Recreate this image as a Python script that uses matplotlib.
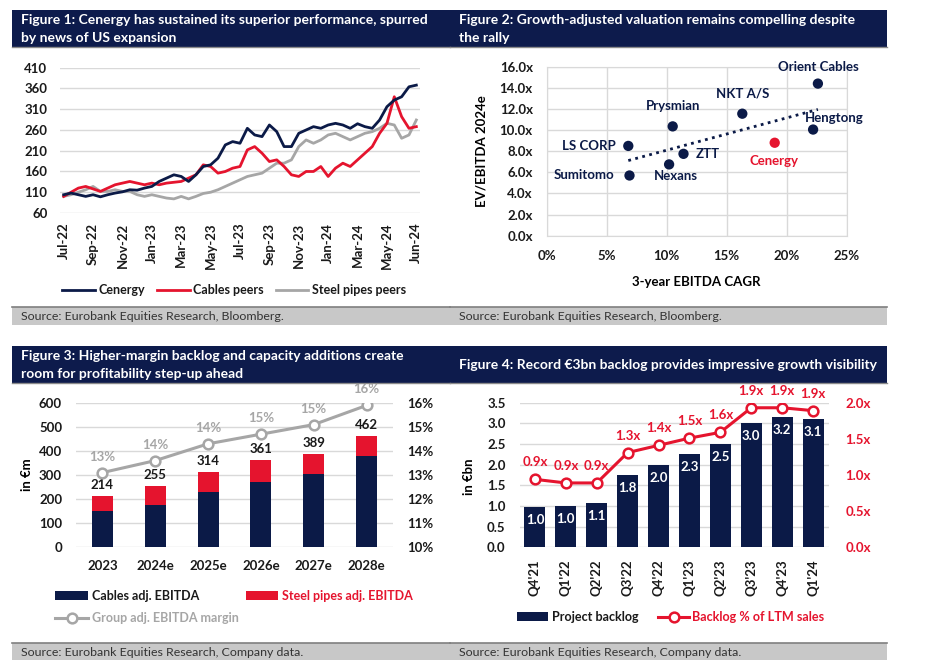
import numpy as np
import matplotlib.pyplot as plt
from matplotlib.patches import Rectangle
from matplotlib.lines import Line2D

W, H = 938, 660
NAVY = '#0b1a47'
HEAD = '#0d1b4c'
RED = '#e5142e'
GREY = '#a6a6a6'
GRID = '#d9d9d9'
TXT = '#1a1a1a'

# ---- Figure 1 data (half-monthly readings, rebased to 100) ----
perf_ticks = ['Jul-22', 'Sep-22', 'Nov-22', 'Jan-23', 'Mar-23', 'May-23', 'Jul-23',
              'Sep-23', 'Nov-23', 'Jan-24', 'Mar-24', 'May-24', 'Jun-24']
cenergy = [104, 108, 104, 100, 104, 99, 104, 108, 111, 116, 115, 120, 124, 136, 144, 152,
           148, 136, 152, 172, 176, 192, 224, 232, 228, 264, 248, 244, 272, 256, 220, 220,
           252, 260, 268, 264, 272, 276, 272, 264, 275, 268, 264, 284, 316, 332, 340, 364, 368]
cables_peers = [100, 110, 120, 124, 118, 112, 120, 128, 132, 136, 132, 128, 132, 128, 132, 134,
                136, 144, 152, 176, 172, 156, 160, 168, 172, 212, 220, 204, 184, 188, 172, 152,
                148, 160, 160, 172, 148, 168, 180, 172, 188, 204, 220, 252, 276, 340, 292, 264, 268]
steel_pipes = [100, 104, 110, 116, 124, 112, 112, 116, 112, 112, 104, 100, 104, 100, 96, 94,
               100, 94, 100, 107, 110, 116, 124, 132, 140, 148, 152, 156, 168, 180, 180, 188,
               220, 236, 228, 236, 248, 252, 244, 236, 244, 252, 256, 264, 276, 272, 240, 248, 284]

# ---- Figure 2 data ----
peers = ['Orient Cables', 'NKT A/S', 'Prysmian', 'LS CORP', 'Sumitomo', 'Nexans', 'ZTT', 'Hengtong', 'Cenergy']
cagr = [22.6, 16.3, 10.5, 6.8, 6.9, 10.2, 11.4, 22.2, 19.0]
ev_ebitda = [14.4, 11.55, 10.35, 8.5, 5.7, 6.75, 7.75, 10.05, 8.8]

# ---- Figure 3 data ----
years = ['2023', '2024e', '2025e', '2026e', '2027e', '2028e']
cables_ebitda = [150, 176, 229, 272, 304, 379]
steel_ebitda = [64, 79, 85, 89, 85, 83]
ebitda_margin = [13.1, 13.6, 14.3, 14.7, 15.1, 15.9]

# ---- Figure 4 data ----
quarters = ["Q4'21", "Q1'22", "Q2'22", "Q3'22", "Q4'22", "Q1'23", "Q2'23", "Q3'23", "Q4'23", "Q1'24"]
backlog = [0.98, 1.0, 1.08, 1.76, 2.0, 2.27, 2.49, 3.0, 3.16, 3.1]
backlog_ratio = [0.94, 0.89, 0.89, 1.31, 1.41, 1.51, 1.59, 1.93, 1.93, 1.89]

plt.rcParams['font.family'] = ['Lato', 'DejaVu Sans']
plt.rcParams['font.weight'] = 'bold'
plt.rcParams['axes.labelweight'] = 'bold'
plt.rcParams['text.color'] = TXT
plt.rcParams['xtick.color'] = TXT
plt.rcParams['ytick.color'] = TXT

fig = plt.figure(figsize=(W / 100, H / 100), dpi=100)


def fx(x):
    return x / W


def fy(y):
    return 1 - y / H


def box(x0, y0, x1, y1):
    return [x0 / W, 1 - y1 / H, (x1 - x0) / W, (y1 - y0) / H]


def header(x0, y0, x1, y1, lines, ys):
    fig.add_artist(Rectangle((fx(x0), fy(y1)), fx(x1 - x0), (y1 - y0) / H,
                             transform=fig.transFigure, facecolor=HEAD, edgecolor='none'))
    fig.add_artist(Line2D([fx(x0), fx(x1)], [fy(y1), fy(y1)], transform=fig.transFigure,
                          color='#8a8a8a', lw=1))
    for line, yy in zip(lines, ys):
        fig.text(fx(x0 + 9), fy(yy), line, color='white', fontsize=10, fontweight='bold',
                 va='center', ha='left')


def source(x0, y0, x1, y1, text):
    fig.add_artist(Rectangle((fx(x0), fy(y1)), fx(x1 - x0), (y1 - y0) / H,
                             transform=fig.transFigure, facecolor='#c8c8c8', edgecolor='none'))
    fig.add_artist(Line2D([fx(x0), fx(x1)], [fy(y0), fy(y0)], transform=fig.transFigure,
                          color='#7f7f7f', lw=1.2))
    fig.text(fx(x0 + 9), fy((y0 + y1) / 2 + 0.5), text, color='#333333', fontsize=8.9,
             fontweight='normal', va='center', ha='left')


def clean(ax):
    for s in ax.spines.values():
        s.set_visible(False)
    ax.tick_params(length=0)


LEG = {'weight': 'bold', 'size': 9}

# ================= Figure 1 =================
header(12, 10, 450, 47, ['Figure 1: Cenergy has sustained its superior performance, spurred',
                         'by news of US expansion'], [19.5, 38])
ax1 = fig.add_axes(box(60, 67.7, 420, 213))
x = np.arange(len(cenergy))
ax1.plot(x, cenergy, color=NAVY, lw=2, label='Cenergy', zorder=4)
ax1.plot(x, steel_pipes, color=GREY, lw=2, label='Steel pipes peers', zorder=2)
ax1.plot(x, cables_peers, color=RED, lw=2, label='Cables peers', zorder=3)
ax1.set_ylim(60, 410)
ax1.set_yticks(range(60, 411, 50))
ax1.set_xlim(-0.5, len(cenergy) - 0.5)
ax1.set_xticks(np.arange(0, len(cenergy), 4))
ax1.set_xticklabels(perf_ticks, rotation=90)
ax1.grid(axis='y', color=GRID, lw=1)
ax1.set_axisbelow(True)
clean(ax1)
ax1.tick_params(axis='y', pad=9, labelsize=9.5)
ax1.tick_params(axis='x', pad=7, labelsize=9.5)
h = ax1.get_legend_handles_labels()[0]
ax1.legend([h[0], h[2], h[1]], ['Cenergy', 'Cables peers', 'Steel pipes peers'], ncol=3,
           loc='center', bbox_to_anchor=(fx(234), fy(290)), bbox_transform=fig.transFigure,
           frameon=False, prop=LEG, handlelength=2.6, handletextpad=0.25, columnspacing=1.0)
source(12, 307, 450, 325, 'Source: Eurobank Equities Research, Bloomberg.')

# ================= Figure 2 =================
header(450, 10, 887, 47, ['Figure 2: Growth-adjusted valuation remains compelling despite',
                          'the rally'], [19.5, 38])
ax2 = fig.add_axes(box(546.7, 66.7, 846.7, 235.7))
cols = [RED if p == 'Cenergy' else NAVY for p in peers]
ax2.scatter(cagr, ev_ebitda, s=55, c=cols, zorder=4, edgecolors='none')
coef = np.polyfit(cagr, ev_ebitda, 1)
tx = np.array([min(cagr), max(cagr)])
ax2.plot(tx, np.polyval(coef, tx), ls=(0, (1, 1.6)), color=NAVY, lw=2, zorder=3)
offsets = {'Orient Cables': (0, 17), 'NKT A/S': (0, 20), 'Prysmian': (0, 20),
           'LS CORP': (-39, 0), 'Sumitomo': (-45, 0), 'Nexans': (7, -12), 'ZTT': (24, 0),
           'Hengtong': (21, 12), 'Cenergy': (-1, -18)}
for p, cx, cy, c in zip(peers, cagr, ev_ebitda, cols):
    ax2.annotate(p, (cx, cy), xytext=offsets[p], textcoords='offset pixels', ha='center',
                 va='center', fontsize=9.5, color=c, fontweight='bold', zorder=5)
ax2.set_xlim(0, 25)
ax2.set_ylim(0, 16)
ax2.set_xticks(range(0, 26, 5))
ax2.set_xticklabels([f'{v}%' for v in range(0, 26, 5)])
ax2.set_yticks(range(0, 17, 2))
ax2.set_yticklabels([f'{v:.1f}x' for v in range(0, 17, 2)])
ax2.grid(True, color=GRID, lw=1)
ax2.set_axisbelow(True)
for s in ax2.spines.values():
    s.set_color(GRID)
ax2.tick_params(length=0, labelsize=9.5)
ax2.tick_params(axis='y', pad=10)
ax2.tick_params(axis='x', pad=10)
ax2.set_ylabel('EV/EBITDA 2024e', fontsize=9.5)
ax2.yaxis.set_label_coords(-0.196, 0.5)
ax2.set_xlabel('3-year EBITDA CAGR', fontsize=9.5)
ax2.xaxis.set_label_coords(0.5, -0.238)
source(450, 307, 887, 325, 'Source: Eurobank Equities Research, Bloomberg.')

# ================= Figure 3 =================
header(12, 346, 450, 383, ['Figure 3: Higher-margin backlog and capacity additions create',
                           'room for profitability step-up ahead'], [356, 374])
ax3 = fig.add_axes(box(76, 403, 393, 547))
xi = np.arange(len(years))
totals = np.array(cables_ebitda) + np.array(steel_ebitda)
ax3.bar(xi, cables_ebitda, width=0.4, color=NAVY, label='Cables adj. EBITDA', zorder=3)
ax3.bar(xi, steel_ebitda, width=0.4, bottom=cables_ebitda, color=RED,
        label='Steel pipes adj. EBITDA', zorder=3)
for i, t in enumerate(totals):
    ax3.annotate(f'{t}', (i, t), xytext=(0, 11), textcoords='offset pixels', ha='center',
                 va='center', fontsize=9.5, fontweight='bold', zorder=6)
ax3.set_ylim(0, 600)
ax3.set_yticks(range(0, 601, 100))
ax3.set_xlim(-0.5, len(years) - 0.5)
ax3.set_xticks(xi)
ax3.set_xticklabels(years)
ax3.grid(axis='y', color=GRID, lw=1)
ax3.set_axisbelow(True)
clean(ax3)
ax3.tick_params(axis='y', pad=10, labelsize=9.5)
ax3.tick_params(axis='x', pad=9, labelsize=9.5)
ax3.set_ylabel('in €m', fontsize=9.5)
ax3.yaxis.set_label_coords(-0.136, 0.5)
ax3b = ax3.twinx()
ax3b.plot(xi, ebitda_margin, color=GREY, lw=2.2, marker='o', ms=7, mfc='white', mec=GREY,
          mew=1.8, label='Group adj. EBITDA margin', zorder=4)
for i, m in enumerate(ebitda_margin):
    ax3b.annotate(f'{m:.0f}%', (i, m), xytext=(0, 16), textcoords='offset pixels',
                  ha='center', va='center', fontsize=9.5, color=GREY, fontweight='bold')
ax3b.set_ylim(10, 16)
ax3b.set_yticks(range(10, 17))
ax3b.set_yticklabels([f'{v}%' for v in range(10, 17)])
clean(ax3b)
ax3b.tick_params(axis='y', pad=10, labelsize=9.5)
hb = ax3.get_legend_handles_labels()[0]
hl = ax3b.get_legend_handles_labels()[0]
ax3.legend([hb[0], hl[0], hb[1]],
           ['Cables adj. EBITDA', 'Group adj. EBITDA margin', 'Steel pipes adj. EBITDA'],
           ncol=2, loc='center left', bbox_to_anchor=(fx(44), fy(607)),
           bbox_transform=fig.transFigure, frameon=False, prop=LEG, handlelength=2.6,
           handletextpad=0.3, columnspacing=0.6, labelspacing=0.8,
           labelcolor=[TXT, GREY, RED])
source(12, 643, 450, 661, 'Source: Eurobank Equities Research, Company data.')

# ================= Figure 4 =================
header(450, 346, 887, 383, ['Figure 4: Record €3bn backlog provides impressive growth visibility'], [365])
ax4 = fig.add_axes(box(519.5, 402.7, 828.5, 547.3))
qi = np.arange(len(quarters))
ax4.bar(qi, backlog, width=0.68, color=NAVY, label='Project backlog', zorder=3)
for i, b in enumerate(backlog):
    ax4.annotate(f'{b:.1f}', (i, b), xytext=(0, -13), textcoords='offset pixels', ha='center',
                 va='center', fontsize=9.5, color='white', fontweight='bold', zorder=5)
ax4.set_ylim(0, 3.5)
ax4.set_yticks(np.arange(0, 3.51, 0.5))
ax4.set_yticklabels([f'{v:.1f}' for v in np.arange(0, 3.51, 0.5)])
ax4.set_xlim(-0.5, len(quarters) - 0.5)
ax4.set_xticks(qi)
ax4.set_xticklabels(quarters, rotation=90)
ax4.grid(axis='y', color=GRID, lw=1)
ax4.set_axisbelow(True)
clean(ax4)
ax4.tick_params(axis='y', pad=10, labelsize=9.5)
ax4.tick_params(axis='x', pad=9, labelsize=9.5)
ax4.set_ylabel('in €bn', fontsize=9.5)
ax4.yaxis.set_label_coords(-0.144, 0.49)
ax4b = ax4.twinx()
ax4b.plot(qi, backlog_ratio, color=RED, lw=2.2, marker='o', ms=7, mfc='white', mec=RED,
          mew=1.8, label='Backlog % of LTM sales', zorder=4)
for i, r in enumerate(backlog_ratio):
    ax4b.annotate(f'{r:.1f}x', (i, r), xytext=(0, 17), textcoords='offset pixels',
                  ha='center', va='center', fontsize=9.5, color=RED, fontweight='bold')
ax4b.set_ylim(0, 2.0)
ax4b.set_yticks(np.arange(0, 2.01, 0.5))
ax4b.set_yticklabels([f'{v:.1f}x' for v in np.arange(0, 2.01, 0.5)])
clean(ax4b)
ax4b.tick_params(axis='y', pad=12, labelsize=9.5, colors=RED)
hb = ax4.get_legend_handles_labels()[0]
hl = ax4b.get_legend_handles_labels()[0]
ax4.legend([hb[0], hl[0]], ['Project backlog', 'Backlog % of LTM sales'], ncol=2,
           loc='center left', bbox_to_anchor=(fx(506), fy(617)), bbox_transform=fig.transFigure,
           frameon=False, prop={'weight': 'bold', 'size': 9.1}, handlelength=2.4,
           handletextpad=0.3, columnspacing=1.6, labelcolor=[TXT, RED])
source(450, 643, 887, 661, 'Source: Eurobank Equities Research, Company data.')

fig.savefig('out.png', dpi=100, facecolor='white')
